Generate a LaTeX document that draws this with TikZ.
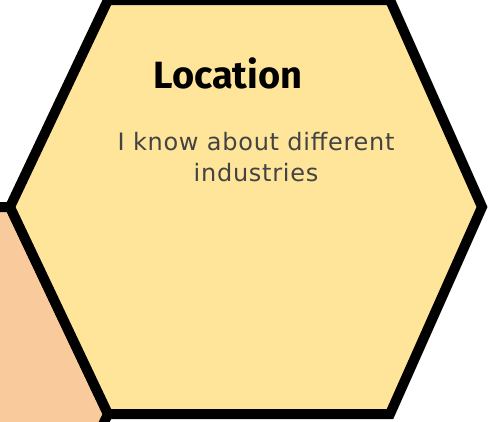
\documentclass[tikz,border=0pt]{standalone}
\usepackage{fontspec}
\setmainfont{Fira Sans}
\newfontfamily\blurbfont[LetterSpace=3]{DejaVu Sans}
\usetikzlibrary{shapes}
\definecolor{hexyellow}{HTML}{FFE599}
\definecolor{hexorange}{HTML}{F9CB9C}
\definecolor{bodygray}{HTML}{434343}

\begin{document}
\begin{tikzpicture}[x=1pt,y=-1pt,
  hexcell/.style={draw=black, line width=10pt},
  title/.style={font=\fontsize{38}{44}\selectfont\bfseries, text=black},
  blurb/.style={font=\blurbfont\fontsize{24}{31}\selectfont, text=bodygray, align=center}]
\useasboundingbox (0,0) rectangle (488,421);
\clip (0,0) rectangle (488,421);

\draw[hexcell, fill=hexorange] (10,207) -- (108,414) -- (10,621) -- (-270,621) -- (-368,414) -- (-270,207) -- cycle;
\draw[hexcell, fill=hexyellow] (108,0) -- (390,0) -- (482,207) -- (390,414) -- (108,414) -- (10,207) -- cycle;

\node[title] (loc) at (228,73) {Location};
\node[blurb] (know) at (256,157) {I know about different\\industries};
\end{tikzpicture}
\end{document}
